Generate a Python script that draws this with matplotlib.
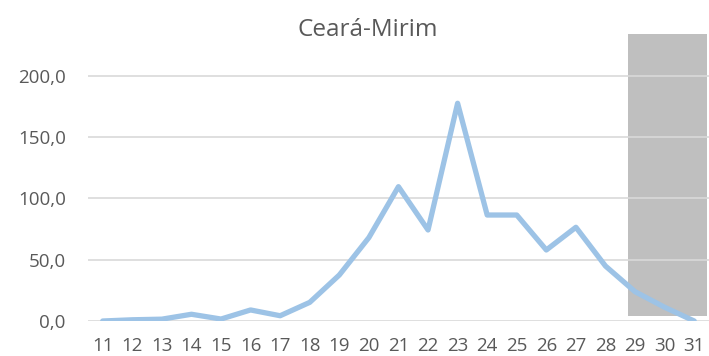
import matplotlib.pyplot as plt
from matplotlib.patches import Rectangle

days = list(range(11, 32))
casos = [0.0, 1.0, 1.5, 5.5, 1.6, 9.0, 4.3, 15.2, 37.5, 68.0, 109.5,
         74.2, 177.5, 86.4, 86.4, 57.9, 76.4, 44.8, 23.9, 11.2, 0.0]
yticks = [0, 50, 100, 150, 200]
ylabels = ['0,0', '50,0', '100,0', '150,0', '200,0']

plt.rcParams['font.family'] = ['Open Sans', 'DejaVu Sans']

fig = plt.figure(figsize=(7.09, 3.56), dpi=100)
ax = fig.add_axes([0.124, 0.0983, 0.876, 0.827])

# shaded block over the last days
ax.add_patch(Rectangle((28.77, 4.1), 31.42 - 28.77, 234 - 4.1,
                       facecolor='#BFBFBF', edgecolor='none', zorder=1))

ax.plot(days, casos, color='#9DC3E6', linewidth=3.8, solid_capstyle='round',
        solid_joinstyle='round', zorder=3)

ax.set_xlim(10.5, 31.5)
ax.set_ylim(0, 240)
ax.set_xticks(days)
ax.set_xticklabels([str(d) for d in days])
ax.set_yticks(yticks)
ax.set_yticklabels(ylabels)
ax.grid(axis='y', color='#D9D9D9', linewidth=1.2, zorder=2)
ax.set_axisbelow(False)
for s in ax.spines.values():
    s.set_visible(False)
ax.tick_params(length=0, colors='#595959', labelsize=13.5)
ax.tick_params(axis='y', pad=16)
ax.tick_params(axis='x', pad=11.5)

fig.text(0.518, 0.915, 'Ceará-Mirim', ha='center', va='center',
         fontsize=17.5, color='#595959')

fig.savefig('out.png', dpi=100)
